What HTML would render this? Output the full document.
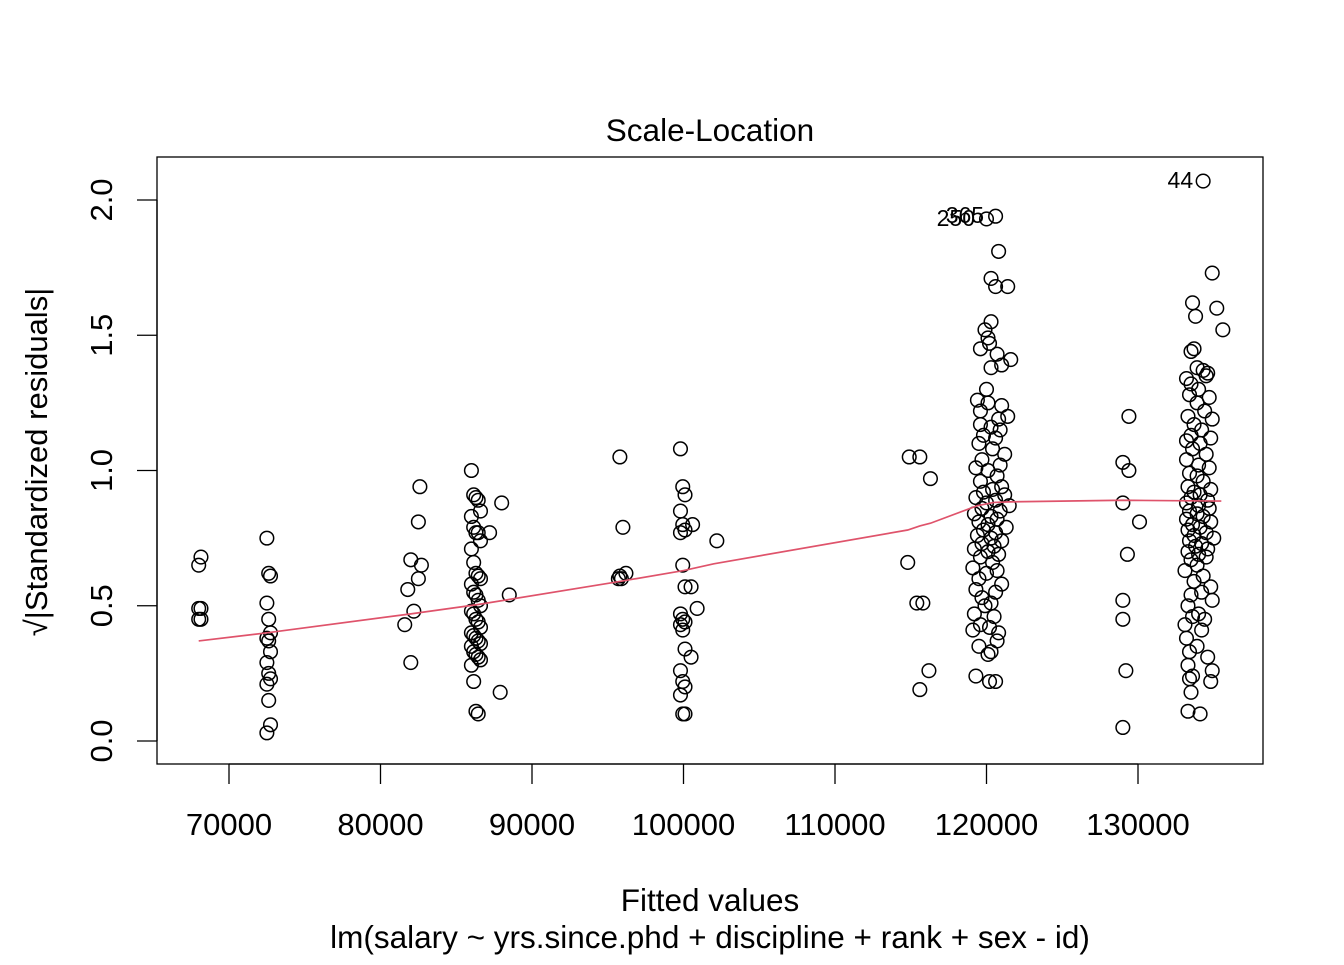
<!DOCTYPE html>
<html><head><meta charset="utf-8"><style>
body{margin:0;background:#fff}
svg text{font-family:"Liberation Sans",Arial,sans-serif;fill:#000}
</style></head><body>
<svg id="chart" width="1344" height="960" viewBox="0 0 1344 960" xmlns="http://www.w3.org/2000/svg">
<text x="710" y="141" font-size="31.5" text-anchor="middle">Scale-Location</text>
<rect x="157" y="157" width="1106" height="607" fill="none" stroke="#000" stroke-width="1.3"/>
<g id="xaxis"></g>
<g id="yaxis"></g>
<g id="pts"></g>
<g id="smooth"></g>
<g id="lbls"></g>
<text x="710" y="911" font-size="31.5" text-anchor="middle">Fitted values</text>
<text x="710" y="948" font-size="31.5" text-anchor="middle">lm(salary ~ yrs.since.phd + discipline + rank + sex - id)</text>
<text transform="translate(47,462) rotate(-90)" font-size="31" text-anchor="middle">√|Standardized residuals|</text>
</svg>
<script>
const xTicks=[70000,80000,90000,100000,110000,120000,130000];
const yTicks=[0.0,0.5,1.0,1.5,2.0];
const c1x=68000,c1y=[0.45,0.45,0.49,0.49,0.65,0.68];
const c2y=[0.75,0.62,0.61,0.51,0.45,0.40,0.38,0.37,0.33,0.29,0.25,0.23,0.21,0.15,0.06,0.03];
const c3=[[81600,0.43],[81800,0.56],[82000,0.67],[82200,0.48],[82000,0.29],[82500,0.81],[82600,0.94],[82500,0.60],[82700,0.65]];
const c4y=[1.00,0.91,0.90,0.89,0.85,0.83,0.79,0.77,0.77,0.74,0.71,0.66,0.62,0.61,0.60,0.58,0.55,0.54,0.52,0.50,0.48,0.47,0.45,0.44,0.42,0.40,0.39,0.38,0.37,0.36,0.35,0.33,0.32,0.31,0.30,0.28,0.22,0.11,0.10];
const c4extra=[[87200,0.77],[88000,0.88],[88500,0.54],[87900,0.18]];
const c5=[[95800,1.05],[96000,0.79],[95800,0.61],[95900,0.60],[96200,0.62],[95700,0.60]];
const c6y=[1.08,0.94,0.91,0.85,0.80,0.78,0.77,0.65,0.57,0.47,0.45,0.44,0.43,0.41,0.34,0.26,0.22,0.20,0.17,0.10,0.10];
const c6extra=[[102200,0.74],[100500,0.57],[100900,0.49],[100500,0.31],[100600,0.80]];
const c7=[[114800,0.66],[114900,1.05],[115600,1.05],[116300,0.97],[115400,0.51],[115800,0.51],[115600,0.19],[116200,0.26]];
const c8y=[1.94,1.93,1.81,1.71,1.68,1.68,1.55,1.52,1.49,1.47,1.45,1.43,1.41,1.39,1.38,1.30,1.26,1.25,1.24,1.22,1.20,1.19,1.17,1.16,1.15,1.13,1.12,1.10,1.08,1.06,1.04,1.02,1.01,1.00,0.98,0.96,0.94,0.93,0.92,0.91,0.90,0.89,0.88,0.87,0.86,0.85,0.84,0.83,0.82,0.81,0.80,0.79,0.78,0.77,0.76,0.75,0.74,0.73,0.72,0.71,0.70,0.69,0.68,0.66,0.64,0.63,0.62,0.60,0.58,0.56,0.55,0.53,0.51,0.50,0.47,0.46,0.43,0.42,0.41,0.40,0.37,0.35,0.33,0.32,0.24,0.22,0.22];
const c8x=[120600,120000,120800,120300,120600,121400,120300,119900,120100,120200,119600,120700,121600,121000,120300,120000,119400,120100,121000,119600,121400,120800,119600,120300,120900,119800,120600,119500,120400,121200,119700,120900,119300,120100,120700,119600,121000,120400,119800,121200,119300,120600,120000,121500,119700,120900,119200,120300,120700,119500,120100,121300,119800,120600,119400,120300,121000,119700,120500,119200,120100,120800,119600,120400,119100,120700,120000,119500,121000,119300,120600,119700,120300,119900,119200,120500,119600,120200,119100,120800,120700,119500,120300,120100,119300,120200,120600];
const c9=[[129000,0.05],[129200,0.26],[129000,0.45],[129000,0.52],[129300,0.69],[129000,0.88],[130100,0.81],[129000,1.03],[129400,1.00],[129400,1.20]];
const c10y=[2.07,1.73,1.62,1.60,1.57,1.52,1.45,1.44,1.38,1.37,1.36,1.35,1.34,1.32,1.30,1.28,1.27,1.25,1.22,1.20,1.19,1.17,1.15,1.13,1.12,1.11,1.10,1.08,1.06,1.04,1.02,1.01,0.99,0.98,0.96,0.94,0.93,0.92,0.91,0.90,0.89,0.88,0.87,0.86,0.85,0.84,0.83,0.82,0.81,0.80,0.79,0.78,0.77,0.76,0.75,0.74,0.73,0.72,0.71,0.70,0.69,0.68,0.67,0.65,0.63,0.61,0.59,0.57,0.55,0.54,0.52,0.50,0.47,0.46,0.45,0.43,0.41,0.38,0.35,0.33,0.31,0.28,0.26,0.24,0.23,0.22,0.18,0.11,0.10];
const c10x=[134300,134900,133600,135200,133800,135600,133700,133500,133900,134300,134600,134500,133200,133500,134000,133400,134700,133900,134400,133300,134900,133700,134200,133500,134800,133200,134100,133600,134500,133200,134000,134700,133400,133900,134300,133300,134800,133700,134100,133500,134600,133200,134000,134700,133400,133900,134300,133200,134800,133600,134100,133300,134500,133700,135000,133400,134200,133800,134600,133300,134000,134500,133500,133900,133100,134300,133700,134800,134200,133500,134900,133300,134000,133600,134400,133100,134200,133200,133900,133400,134600,133300,134900,133600,133400,134800,133500,133300,134100];
const smoothX=[68000,72500,82000,86500,95800,100000,102000,114800,115600,116300,119400,120500,121500,129000,135500];
const smoothY=[0.37,0.40,0.47,0.505,0.59,0.63,0.655,0.78,0.795,0.805,0.87,0.882,0.884,0.89,0.887];
const labelNames=["44","365","250"];
const labelX=[134300,120500,119900];
const labelY=[2.07,1.94,1.93];

const X=v=>229+(v-70000)/10000*151.5;
const Y=v=>741-v*270.5;
const NS="http://www.w3.org/2000/svg";
function mk(tag,parent,attrs){const e=document.createElementNS(NS,tag);for(const k in attrs)e.setAttribute(k,attrs[k]);parent.appendChild(e);return e;}
const xa=document.getElementById('xaxis'),ya=document.getElementById('yaxis');
mk('line',xa,{x1:X(xTicks[0]),x2:X(xTicks[xTicks.length-1]),y1:764,y2:764,stroke:'#000','stroke-width':1.3});
xTicks.forEach(t=>{
 const l=mk('line',xa,{x1:X(t),x2:X(t),y1:764,y2:784,stroke:'#000','stroke-width':1.3});
 
 
 const tx=mk('text',xa,{x:X(t),y:835,'font-size':31,'text-anchor':'middle'});tx.textContent=t;
 
 
});
mk('line',ya,{x1:157,x2:157,y1:Y(0),y2:Y(2),stroke:'#000','stroke-width':1.3});
yTicks.forEach(t=>{
 const l=mk('line',ya,{x1:137,x2:157,y1:Y(t),y2:Y(t),stroke:'#000','stroke-width':1.3});
 
 
 const tx=mk('text',ya,{transform:`translate(112,${Y(t)}) rotate(-90)`,'font-size':31,'text-anchor':'middle'});tx.textContent=t.toFixed(1);
 
 
});
const pts=[];
c1y.forEach((y,i)=>pts.push([c1x+(i%2)*150,y]));
c2y.forEach((y,i)=>pts.push([72500+(i%3)*120,y]));
c3.forEach(p=>pts.push(p));
c4y.forEach((y,i)=>pts.push([86000+(i%5)*150,y]));
c4extra.forEach(p=>pts.push(p));
c5.forEach(p=>pts.push(p));
c6y.forEach((y,i)=>pts.push([99800+(i%3)*150,y]));
c6extra.forEach(p=>pts.push(p));
c7.forEach(p=>pts.push(p));
c8y.forEach((y,i)=>pts.push([c8x[i],y]));
c9.forEach(p=>pts.push(p));
c10y.forEach((y,i)=>pts.push([c10x[i],y]));
const pg=document.getElementById('pts');
pts.forEach(p=>{
 const c=mk('circle',pg,{cx:X(p[0]),cy:Y(p[1]),r:6.8,fill:'none',stroke:'#000','stroke-width':1.5});
 
 
});
const sm=mk('polyline',document.getElementById('smooth'),{points:smoothX.map((x,i)=>X(x)+','+Y(smoothY[i])).join(' '),fill:'none',stroke:'#DF536B','stroke-width':1.7});


const lg=document.getElementById('lbls');
labelNames.forEach((n,i)=>{
 const t=mk('text',lg,{x:X(labelX[i])-10,y:Y(labelY[i])+7,'font-size':23,'text-anchor':'end'});t.textContent=n;
 
 
});
</script>
</body></html>
